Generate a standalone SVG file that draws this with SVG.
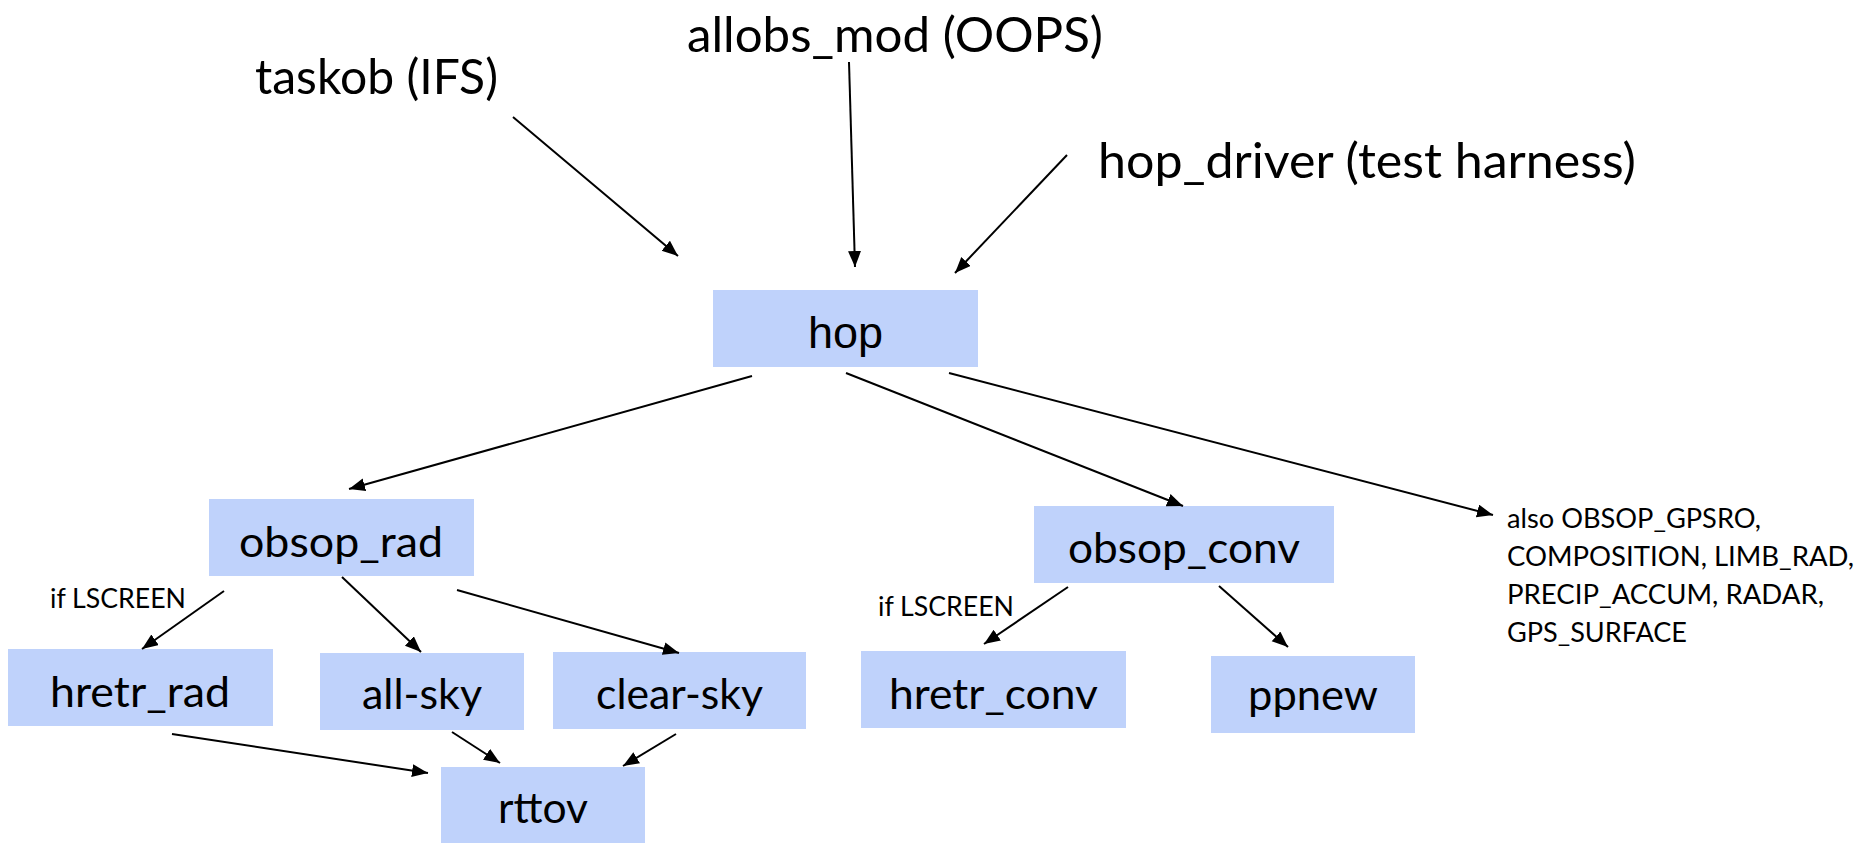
<svg xmlns="http://www.w3.org/2000/svg" width="1864" height="844" viewBox="0 0 1864 844">
  <defs>
    <marker id="arrow" markerUnits="userSpaceOnUse" markerWidth="18" markerHeight="14" refX="16" refY="6.5" orient="auto">
      <path d="M0,0 L16,6.5 L0,13 Z" fill="#000"/>
    </marker>
    <style>
      .box { fill: #BFD2FB; }
      .lbl { font-family: Lato, "Open Sans", sans-serif; font-size: 43px; fill: #000; text-anchor: middle; }
      .top { font-family: Lato, "Open Sans", sans-serif; font-size: 49px; fill: #000; }
      .note { font-family: Lato, "Open Sans", sans-serif; font-size: 27px; fill: #000; }
      .hop { font-family: "Liberation Sans", Arial, sans-serif; font-size: 45px; fill: #000; text-anchor: middle; }
      .edge { stroke: #000; stroke-width: 2; fill: none; marker-end: url(#arrow); }
    </style>
  </defs>
  <rect width="1864" height="844" fill="#fff"/>

  <!-- callers -->
  <g id="taskob">
    <text class="top" x="255" y="94" textLength="243" lengthAdjust="spacingAndGlyphs">taskob (IFS)</text>
  </g>
  <g id="allobs_mod">
    <text class="top" x="687" y="52" textLength="416" lengthAdjust="spacingAndGlyphs">allobs_mod (OOPS)</text>
  </g>
  <g id="hop_driver">
    <text class="top" x="1098" y="178" textLength="538" lengthAdjust="spacingAndGlyphs">hop_driver (test harness)</text>
  </g>

  <!-- central operator -->
  <g id="hop">
    <rect class="box" x="713" y="290" width="265" height="77"/>
    <text class="hop" x="845.5" y="348">hop</text>
  </g>

  <!-- radiance branch -->
  <g id="obsop_rad">
    <rect class="box" x="209" y="499" width="265" height="77"/>
    <text class="lbl" x="341" y="557" textLength="204" lengthAdjust="spacingAndGlyphs">obsop_rad</text>
  </g>
  <g id="hretr_rad">
    <rect class="box" x="8" y="649" width="265" height="77"/>
    <text class="lbl" x="140" y="707" textLength="180" lengthAdjust="spacingAndGlyphs">hretr_rad</text>
  </g>
  <g id="all-sky">
    <rect class="box" x="320" y="653" width="204" height="77"/>
    <text class="lbl" x="422" y="709" textLength="120" lengthAdjust="spacingAndGlyphs">all-sky</text>
  </g>
  <g id="clear-sky">
    <rect class="box" x="553" y="652" width="253" height="77"/>
    <text class="lbl" x="679.5" y="709" textLength="167" lengthAdjust="spacingAndGlyphs">clear-sky</text>
  </g>
  <g id="rttov">
    <rect class="box" x="441" y="767" width="204" height="76"/>
    <text class="lbl" x="543" y="823" textLength="90" lengthAdjust="spacingAndGlyphs">rttov</text>
  </g>

  <!-- conventional branch -->
  <g id="obsop_conv">
    <rect class="box" x="1034" y="506" width="300" height="77"/>
    <text class="lbl" x="1184" y="563" textLength="232" lengthAdjust="spacingAndGlyphs">obsop_conv</text>
  </g>
  <g id="hretr_conv">
    <rect class="box" x="861" y="651" width="265" height="77"/>
    <text class="lbl" x="993.5" y="709" textLength="209" lengthAdjust="spacingAndGlyphs">hretr_conv</text>
  </g>
  <g id="ppnew">
    <rect class="box" x="1211" y="656" width="204" height="77"/>
    <text class="lbl" x="1313" y="710" textLength="130" lengthAdjust="spacingAndGlyphs">ppnew</text>
  </g>

  <!-- other operators -->
  <g id="others">
    <text class="note" x="1507" y="528" textLength="254" lengthAdjust="spacingAndGlyphs">also OBSOP_GPSRO,</text>
    <text class="note" x="1507" y="566" textLength="347" lengthAdjust="spacingAndGlyphs">COMPOSITION, LIMB_RAD,</text>
    <text class="note" x="1507" y="604" textLength="317" lengthAdjust="spacingAndGlyphs">PRECIP_ACCUM, RADAR,</text>
    <text class="note" x="1507" y="642" textLength="180" lengthAdjust="spacingAndGlyphs">GPS_SURFACE</text>
  </g>

  <!-- connectors -->
  <g id="connectors">
    <line class="edge" x1="513" y1="117" x2="678" y2="256" stroke-width="1.8"/>
    <line class="edge" x1="849" y1="62" x2="855" y2="267" stroke-width="1.8"/>
    <line class="edge" x1="1067" y1="155" x2="955" y2="273" stroke-width="1.8"/>
    <line class="edge" x1="752" y1="376" x2="349" y2="489"/>
    <line class="edge" x1="846" y1="373" x2="1183" y2="506"/>
    <line class="edge" x1="949" y1="373" x2="1493" y2="515"/>
    <line class="edge" x1="224" y1="591" x2="142" y2="649"/>
    <line class="edge" x1="342" y1="577" x2="421" y2="652"/>
    <line class="edge" x1="457" y1="590" x2="679" y2="653"/>
    <line class="edge" x1="1068" y1="587" x2="984" y2="644"/>
    <line class="edge" x1="1219" y1="586" x2="1288" y2="647"/>
    <line class="edge" x1="172" y1="734" x2="428" y2="773"/>
    <line class="edge" x1="452" y1="732" x2="500" y2="763"/>
    <line class="edge" x1="676" y1="734" x2="623" y2="766"/>
    <text class="note" x="50" y="608" textLength="136" lengthAdjust="spacingAndGlyphs">if LSCREEN</text>
    <text class="note" x="878" y="616" textLength="136" lengthAdjust="spacingAndGlyphs">if LSCREEN</text>
  </g>
</svg>
